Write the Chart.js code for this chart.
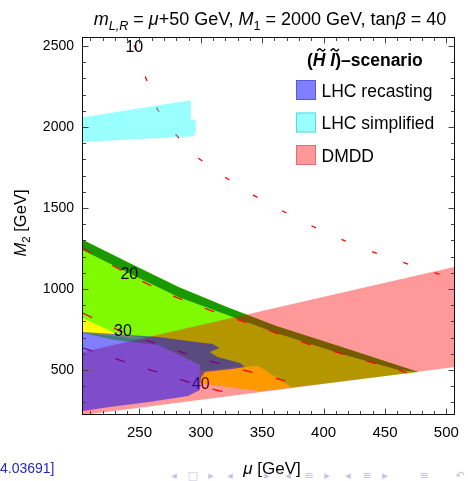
<!DOCTYPE html>
<html>
<head>
<meta charset="utf-8">
<script src="https://cdn.jsdelivr.net/npm/chart.js@4.4.0/dist/chart.umd.min.js"></script>
<style>
  html, body { margin: 0; padding: 0; background: #fff; }
  canvas { display: block; }
</style>
</head>
<body>
<canvas id="chart" width="468" height="481"></canvas>
<script>
const chartFont = '"Liberation Sans", Arial, Helvetica, sans-serif';

// axis ticks
const xTicks = [250, 300, 350, 400, 450, 500];
const yTicks = [500, 1000, 1500, 2000, 2500];

// regions as (mu, M2) outlines in GeV
const limeRegion = [[204, 1302], [241.7, 1160], [281.7, 1012], [321.6, 888], [361.5, 771], [417.3, 635], [477.2, 487],
  [374.2, 392], [347.9, 370], [299.2, 419], [299.2, 531], [265.7, 654], [229.8, 685], [204, 728]];
const yellowLeft = [[204, 820], [229.8, 728], [259.3, 685], [204, 728]];
const yellowRight = [[299.2, 493], [329.5, 518], [347.1, 524], [374.2, 392], [347.9, 370], [299.2, 419]];
const greenEdge = [[204, 1302], [241.7, 1160], [281.7, 1012], [321.6, 888], [361.5, 771], [417.3, 635], [477.2, 487],
  [461.2, 500], [417.3, 592], [361.5, 728], [321.6, 839], [281.7, 950], [241.7, 1098], [204, 1240]];
const dmddRegion = [[204, 611], [507, 1137], [507, 518], [204, 222]];
const lhcRecast = [[204, 734], [229.8, 722], [265.7, 703], [289.6, 679], [309.6, 660], [315.2, 635], [307.2, 611],
  [313.6, 580], [331.9, 543], [335.9, 518], [325.6, 506], [303.2, 487], [300, 450], [299.2, 376], [289.6, 339],
  [257.7, 302], [225.8, 271], [204, 247]];
const lhcSimplified = [[204, 2060], [291.8, 2166], [291.8, 2043], [295.8, 2043], [295.8, 1970], [294.2, 1943], [204, 1908]];

// dashed contours
const contour10 = [[245.7, 2505], [255.3, 2301], [264.1, 2116], [279.3, 1956], [296.8, 1814], [318.4, 1697], [339.9, 1592],
  [360.7, 1505], [385.4, 1407], [408.6, 1326], [431.7, 1252], [456.5, 1185], [481.2, 1123], [506.7, 1061]];
const contour20 = [[204, 1252], [227.1, 1148], [255.1, 1036], [279, 952], [307, 870], [334.9, 798], [361.5, 728],
  [387.8, 660], [415.7, 598], [443.7, 537], [467.6, 483]];
const contour30 = [[204, 851], [212.3, 820], [236.2, 734], [263.1, 664], [295, 582], [324, 520], [353.5, 464], [382.8, 403]];
const contour40 = [[204, 635], [233.8, 561], [267, 481], [300, 401], [316, 370], [329.6, 345]];
const contourLabels = ['10', '20', '30', '40'];
const contourLabelMu = [245.8, 241.7, 236.5, 300];
const contourLabelM2 = [2493, 1086, 740, 407];

// legend
const legendLabels = ['LHC recasting', 'LHC simplified', 'DMDD'];
const colLhcRecast = 'rgba(0, 0, 255, 0.5)';
const colLhcSimplified = 'rgba(0, 255, 255, 0.4)';
const colDmdd = 'rgba(255, 0, 0, 0.4)';
const legendFill = [colLhcRecast, colLhcSimplified, colDmdd];
const legendBorder = ['rgb(90, 90, 215)', 'rgb(90, 215, 215)', 'rgb(225, 110, 110)'];

const pts = arr => arr.map(([x, y]) => ({ x, y }));

function region(data, color, order) {
  return { data: pts(data), showLine: true, fill: 'shape', backgroundColor: color,
    borderWidth: 0, pointRadius: 0, order };
}
function contour(data, dash, label) {
  return { data: pts(data), showLine: true, fill: false, borderColor: '#ff0000', borderWidth: 1.3,
    borderDash: dash, pointRadius: 0, order: 5, labelIndex: label };
}

// text with italic / subscript pieces
function drawRich(ctx, segs, x, y, size, align) {
  const parts = segs.map(([t, f = '']) => {
    const s = f.includes('s') ? size * 0.7 : size;
    const style = (f.includes('i') ? 'italic ' : '') + (f.includes('b') ? 'bold ' : '');
    ctx.font = `${style}${s}px ${chartFont}`;
    return { t, f, s, style, w: ctx.measureText(t).width };
  });
  const total = parts.reduce((a, p) => a + p.w, 0);
  let cx = align === 'center' ? x - total / 2 : x;
  ctx.textAlign = 'left';
  ctx.textBaseline = 'alphabetic';
  for (const p of parts) {
    ctx.font = `${p.style}${p.s}px ${chartFont}`;
    ctx.fillText(p.t, cx, p.f.includes('s') ? y + size * 0.25 : y);
    p.x = cx;
    cx += p.w;
  }
  return parts;
}

function tilde(ctx, cx, ty) {
  ctx.beginPath();
  ctx.moveTo(cx - 4, ty + 1);
  ctx.quadraticCurveTo(cx - 2, ty - 2.5, cx, ty);
  ctx.quadraticCurveTo(cx + 2, ty + 2.5, cx + 4, ty - 1);
  ctx.stroke();
}

const contourLabelPlugin = {
  id: 'contourLabels',
  afterDatasetDraw(chart, args) {
    const ds = chart.data.datasets[args.index];
    if (ds.labelIndex === undefined) return;
    const i = ds.labelIndex;
    const ctx = chart.ctx;
    ctx.save();
    ctx.fillStyle = '#000';
    ctx.font = `16px ${chartFont}`;
    ctx.textAlign = 'center';
    ctx.textBaseline = 'middle';
    ctx.fillText(contourLabels[i], chart.scales.x.getPixelForValue(contourLabelMu[i]),
      chart.scales.y.getPixelForValue(contourLabelM2[i]));
    ctx.restore();
  }
};

const framePlugin = {
  id: 'frame',
  afterDatasetsDraw(chart) {
    const { ctx, chartArea: { left, right, top, bottom } } = chart;
    const xs = chart.scales.x, ys = chart.scales.y;
    const L = Math.round(left) - 0.5, R = Math.round(right) - 0.5;
    const T = Math.round(top) - 0.5, B = Math.round(bottom) - 0.5;
    ctx.save();
    ctx.strokeStyle = '#444';
    ctx.lineWidth = 1;
    ctx.beginPath();
    for (let v = 210; v <= 507; v += 10) {
      const len = v % 50 === 0 ? 6 : 3.5;
      const px = Math.round(xs.getPixelForValue(v)) + 0.5;
      ctx.moveTo(px, B); ctx.lineTo(px, B - len);
      ctx.moveTo(px, T); ctx.lineTo(px, T + len);
    }
    for (let v = 300; v <= 2550; v += 100) {
      const len = v % 500 === 0 ? 6 : 3.5;
      const py = Math.round(ys.getPixelForValue(v)) + 0.5;
      ctx.moveTo(L, py); ctx.lineTo(L + len, py);
      ctx.moveTo(R, py); ctx.lineTo(R - len, py);
    }
    ctx.stroke();
    ctx.strokeStyle = '#111';
    ctx.strokeRect(L, T, R - L, B - T);
    ctx.restore();
  }
};

const textPlugin = {
  id: 'texts',
  afterDraw(chart) {
    const ctx = chart.ctx;
    ctx.save();
    ctx.fillStyle = '#000';

    // title
    drawRich(ctx, [['m', 'i'], ['L,R', 'is'], [' = ', ''], ['μ', 'i'], ['+50 GeV, ', ''], ['M', 'i'], ['1', 's'],
      [' = 2000 GeV, tan', ''], ['β', 'i'], [' = 40', '']], 270, 25, 18, 'center');

    // axis titles
    drawRich(ctx, [['μ', 'i'], [' [GeV]', '']], 272, 474, 17, 'center');
    ctx.save();
    ctx.translate(26, 223);
    ctx.rotate(-Math.PI / 2);
    drawRich(ctx, [['M', 'i'], ['2', 's'], [' [GeV]', '']], 0, 0, 16.5, 'center');
    ctx.restore();

    // legend
    const tsz = 17.5;
    const parts = drawRich(ctx, [['(', 'b'], ['H', 'bi'], [' ', 'b'], ['I', 'bi'], [')–scenario', 'b']], 307, 66, tsz, 'left');
    ctx.strokeStyle = '#000';
    ctx.lineWidth = 1.5;
    tilde(ctx, parts[1].x + parts[1].w / 2 + 2, 66 - tsz * 0.72 - 3.5);
    tilde(ctx, parts[3].x + parts[3].w / 2 + 2, 66 - tsz * 0.72 - 3.5);

    legendLabels.forEach((lab, i) => {
      const top = 80 + i * 32.5;
      ctx.fillStyle = legendFill[i];
      ctx.fillRect(296, top, 20, 20);
      ctx.strokeStyle = legendBorder[i];
      ctx.lineWidth = 1;
      ctx.strokeRect(296.5, top + 0.5, 19, 19);
      ctx.fillStyle = '#000';
      ctx.font = `17.5px ${chartFont}`;
      ctx.textAlign = 'left';
      ctx.textBaseline = 'alphabetic';
      ctx.fillText(lab, 321.5, top + 16.5);
    });

    // slide leftovers: citation tail and beamer navigation
    ctx.fillStyle = 'rgb(40, 40, 190)';
    ctx.font = `14px ${chartFont}`;
    ctx.fillText('4.03691]', 0, 473);
    ctx.fillStyle = 'rgb(195, 195, 220)';
    ctx.font = '11px "DejaVu Sans"';
    ctx.textAlign = 'center';
    ctx.textBaseline = 'middle';
    const nav = [['◂', 174], ['□', 193], ['▸', 211], ['◂', 230], ['▸', 267], ['◂', 288], ['≡', 309], ['▸', 327],
      ['◂', 348], ['≡', 367], ['▸', 385], ['≡', 424], ['↶', 460]];
    nav.forEach(([g, x]) => ctx.fillText(g, x, 476));
    ctx.restore();
  }
};

new Chart(document.getElementById('chart').getContext('2d'), {
  type: 'scatter',
  data: {
    datasets: [
      region(lhcSimplified, colLhcSimplified, 1),
      region(lhcRecast, colLhcRecast, 2),
      region(dmddRegion, colDmdd, 3),
      contour(contour10, [5, 28], 0),
      contour(contour20, [10, 24], 1),
      contour(contour30, [10, 24], 2),
      contour(contour40, [10, 24], 3),
      region(greenEdge, 'rgb(26, 153, 0)', 7),
      region(yellowRight, '#ffff00', 8),
      region(yellowLeft, '#ffff00', 8),
      region(limeRegion, 'rgb(128, 250, 0)', 9)
    ]
  },
  options: {
    responsive: false,
    animation: false,
    layout: { padding: { left: 0, right: 6, top: 38, bottom: 0 } },
    plugins: { legend: { display: false }, tooltip: { enabled: false } },
    scales: {
      x: {
        type: 'linear', min: 204, max: 507,
        grid: { display: false, drawTicks: false },
        border: { display: false },
        afterBuildTicks: s => { s.ticks = xTicks.map(v => ({ value: v })); },
        afterFit: s => { s.height = 66; },
        ticks: { color: '#000', padding: 9, autoSkip: false, maxRotation: 0, callback: v => String(v),
          font: { family: chartFont, size: 15 } }
      },
      y: {
        type: 'linear', min: 222, max: 2550,
        grid: { display: false, drawTicks: false },
        border: { display: false },
        afterBuildTicks: s => { s.ticks = yTicks.map(v => ({ value: v })); },
        afterFit: s => { s.width = 83; },
        ticks: { color: '#000', padding: 9, autoSkip: false, callback: v => String(v),
          font: { family: chartFont, size: 14 } }
      }
    }
  },
  plugins: [contourLabelPlugin, framePlugin, textPlugin]
});
</script>
</body>
</html>
